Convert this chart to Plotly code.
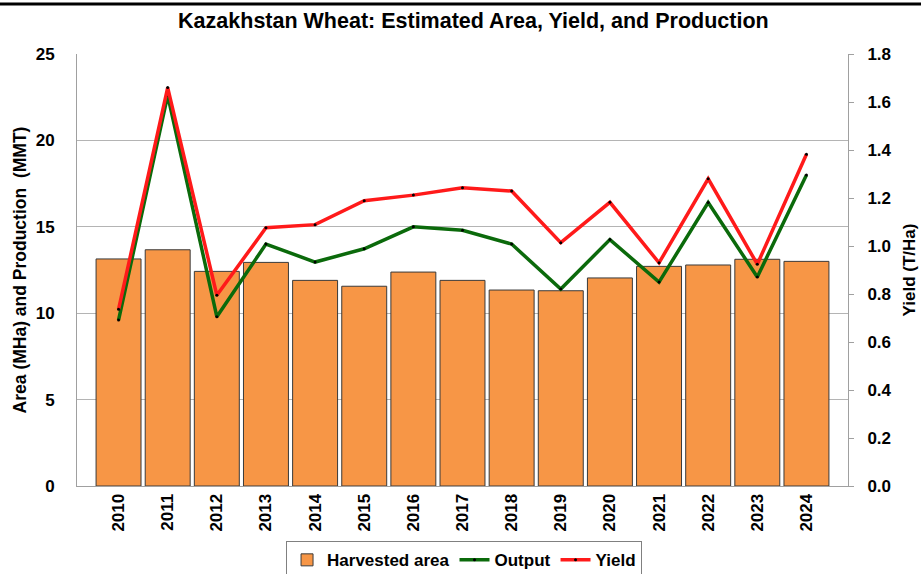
import plotly.graph_objects as go

years = ["2010", "2011", "2012", "2013", "2014", "2015", "2016", "2017",
         "2018", "2019", "2020", "2021", "2022", "2023", "2024"]
area = [13.14, 13.67, 12.42, 12.94, 11.90, 11.56, 12.38, 11.90,
        11.34, 11.30, 12.04, 12.71, 12.79, 13.12, 13.00]
output = [9.6, 22.6, 9.8, 14.0, 12.96, 13.73, 15.0, 14.8,
          14.0, 11.4, 14.26, 11.8, 16.4, 12.1, 18.0]
yield_ = [0.736, 1.66, 0.795, 1.076, 1.089, 1.189, 1.212, 1.243,
          1.229, 1.014, 1.182, 0.93, 1.28, 0.924, 1.382]

FONT = "Liberation Sans, Arial, sans-serif"

fig = go.Figure()
fig.add_trace(go.Bar(
    x=years, y=area, name="<b>Harvested area</b>",
    marker=dict(color="#F79646", line=dict(color="#3a3a3a", width=1)),
))
fig.add_trace(go.Scatter(
    x=years, y=output, name="<b>Output</b>", mode="lines+markers",
    line=dict(color="#0B6A0B", width=3.5),
    marker=dict(color="black", size=3),
))
fig.add_trace(go.Scatter(
    x=years, y=yield_, name="<b>Yield</b>", mode="lines+markers", yaxis="y2",
    line=dict(color="#FF1A1A", width=3.5),
    marker=dict(color="black", size=3),
))

fig.update_layout(
    width=921, height=574,
    margin=dict(l=77, r=73, t=54, b=88, autoexpand=False),
    paper_bgcolor="white", plot_bgcolor="white",
    font=dict(family=FONT, color="black", size=17),
    title=dict(text="<b>Kazakhstan Wheat: Estimated Area, Yield, and Production</b>",
               x=0.514, xanchor="center", y=0.965, yanchor="middle",
               font=dict(size=21.5, family=FONT)),
    bargap=0.085,
    showlegend=True,
    legend=dict(orientation="h", x=0.502, xanchor="center", y=-0.128, yanchor="top",
                bordercolor="#808080", borderwidth=1,
                font=dict(size=17, family=FONT), traceorder="normal",
                itemwidth=30, tracegroupgap=0),
    xaxis=dict(
        tickangle=-90, tickfont=dict(size=17, family=FONT),
        showline=True, linecolor="#a0a0a0", linewidth=1,
        ticks="", showgrid=False, mirror=False, automargin=False,
        tickprefix="<b>", ticksuffix="</b>",
    ),
    yaxis=dict(
        range=[0, 25], dtick=5, showgrid=True, gridcolor="#b4b4b4", gridwidth=1,
        showline=True, linecolor="#a0a0a0", linewidth=1, mirror=True,
        ticks="", tickfont=dict(size=17, family=FONT), automargin=False,
        ticklabelstandoff=18,
        title=dict(text="<b>Area (MHa) and Production  (MMT)</b>",
                   font=dict(size=17.5, family=FONT), standoff=4),
        tickprefix="<b>", ticksuffix="</b>", zeroline=False,
    ),
    yaxis2=dict(
        range=[0, 1.8], dtick=0.2, tickformat=".1f", overlaying="y", side="right",
        showgrid=False, showline=True, linecolor="#a0a0a0", linewidth=1,
        ticks="outside", ticklen=5, tickcolor="#a0a0a0", automargin=False,
        tickfont=dict(size=17, family=FONT), ticklabelstandoff=10,
        tickprefix="<b>", ticksuffix="</b>", zeroline=False,
        title=dict(text="<b>Yield (T/Ha)</b>", font=dict(size=17, family=FONT), standoff=12),
    ),
)

fig.add_shape(type="line", xref="paper", yref="paper", x0=-0.2, x1=1.2,
              y0=1.1157, y1=1.1157, line=dict(color="black", width=3))

fig.write_html("out.html", config={"displayModeBar": False},
               post_script="document.body.style.margin='0';document.body.style.overflow='hidden';")
